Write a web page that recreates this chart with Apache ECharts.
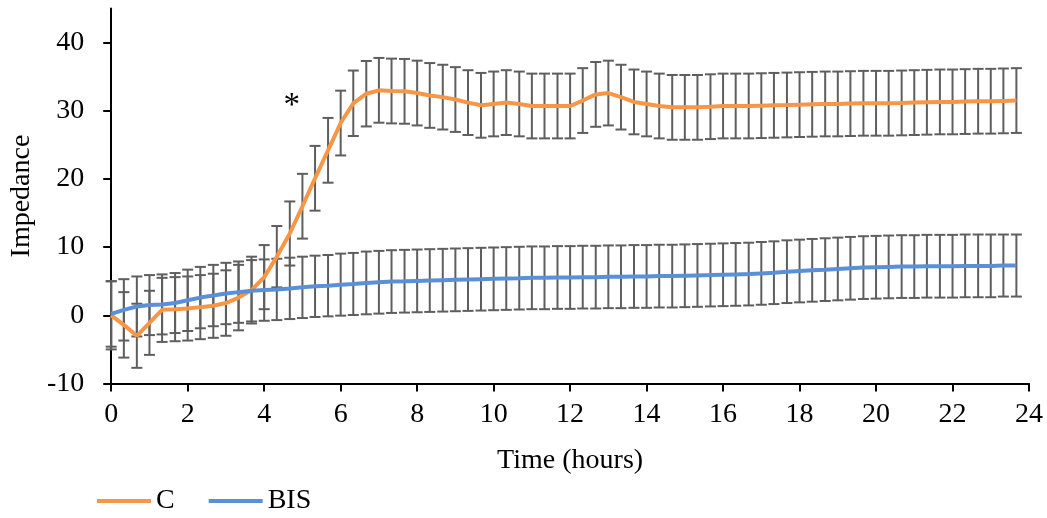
<!DOCTYPE html>
<html>
<head>
<meta charset="utf-8">
<script src="https://cdn.jsdelivr.net/npm/echarts@6/dist/echarts.min.js"></script>
<style>
html,body{margin:0;padding:0;background:#fff;}
#chart{width:1047px;height:518px;}
</style>
</head>
<body>
<div id="chart"></div>
<script>
// Time points (hours)
const timeHours = [0,0.33,0.67,1,1.33,1.67,2,2.33,2.67,3,3.33,3.67,4,4.33,4.67,5,5.33,5.67,6,6.33,6.67,7,7.33,7.67,8,8.33,8.67,9,9.33,9.67,10,10.33,10.67,11,11.33,11.67,12,12.33,12.67,13,13.33,13.67,14,14.33,14.67,15,15.33,15.67,16,16.33,16.67,17,17.33,17.67,18,18.33,18.67,19,19.33,19.67,20,20.33,20.67,21,21.33,21.67,22,22.33,22.67,23,23.33,23.67];

// Series C (mean impedance)
const seriesC = [0,-1.4,-3.0,-1.1,0.8,0.9,1.0,1.2,1.4,1.8,2.6,3.7,5.6,8.6,12.0,16.0,20.1,24.2,28.2,31.1,32.5,33.0,32.9,32.85,32.6,32.25,32.0,31.65,31.2,30.8,31.0,31.2,31.0,30.7,30.7,30.7,30.7,31.5,32.4,32.6,32.0,31.3,31.0,30.7,30.5,30.5,30.5,30.6,30.7,30.7,30.7,30.75,30.8,30.85,30.9,30.95,31.0,31.0,31.05,31.1,31.1,31.1,31.15,31.2,31.25,31.3,31.3,31.35,31.4,31.4,31.45,31.5];
// Series C error (+/-)
const errorC = [5.0,4.8,4.7,4.7,4.7,4.7,4.7,4.7,4.7,4.8,4.8,4.9,4.7,4.5,4.7,4.75,4.75,4.75,4.75,4.8,4.8,4.75,4.75,4.75,4.75,4.75,4.75,4.75,4.75,4.75,4.75,4.75,4.75,4.75,4.75,4.75,4.75,4.75,4.75,4.75,4.75,4.75,4.75,4.75,4.75,4.75,4.75,4.75,4.75,4.75,4.75,4.75,4.75,4.75,4.75,4.75,4.75,4.75,4.75,4.75,4.75,4.75,4.75,4.75,4.75,4.75,4.75,4.75,4.75,4.75,4.75,4.75];

// Series BIS (mean impedance)
const seriesBIS = [0.2,0.8,1.3,1.5,1.6,1.8,2.2,2.6,2.9,3.2,3.4,3.6,3.7,3.8,3.95,4.1,4.25,4.35,4.5,4.6,4.75,4.85,4.95,5.0,5.05,5.1,5.15,5.2,5.25,5.3,5.35,5.4,5.45,5.5,5.5,5.55,5.55,5.6,5.6,5.65,5.65,5.7,5.7,5.75,5.75,5.8,5.85,5.9,5.95,6.0,6.05,6.15,6.25,6.4,6.5,6.6,6.7,6.8,6.9,7.0,7.05,7.1,7.15,7.15,7.2,7.2,7.2,7.25,7.25,7.25,7.3,7.3];
// Series BIS error (+/-)
const errorBIS = [4.8,4.5,4.4,4.4,4.4,4.4,4.5,4.5,4.5,4.5,4.5,4.5,4.5,4.5,4.5,4.5,4.5,4.5,4.55,4.55,4.6,4.6,4.6,4.6,4.6,4.6,4.6,4.6,4.6,4.6,4.6,4.6,4.6,4.6,4.6,4.6,4.6,4.6,4.6,4.6,4.6,4.6,4.6,4.6,4.6,4.6,4.6,4.6,4.6,4.6,4.6,4.6,4.6,4.6,4.6,4.6,4.6,4.6,4.6,4.6,4.6,4.6,4.6,4.6,4.6,4.6,4.6,4.6,4.6,4.6,4.55,4.55];

const yTicks = [-10,0,10,20,30,40];
const xTicks = [0,2,4,6,8,10,12,14,16,18,20,22,24];

const FONT = '"Liberation Serif","Times New Roman",serif';
const ERR_COLOR = '#5e5e5e';

function errData(mean, err) {
  return timeHours.map((t, i) => [t, mean[i] - err[i], mean[i] + err[i]]);
}
function renderErr(params, api) {
  const x = api.value(0), lo = api.value(1), hi = api.value(2);
  const p1 = api.coord([x, hi]);
  const p2 = api.coord([x, lo]);
  const w = 5.5;
  const style = { stroke: ERR_COLOR, lineWidth: 2 };
  return {
    type: 'group',
    children: [
      { type: 'line', shape: { x1: p1[0], y1: p1[1], x2: p2[0], y2: p2[1] }, style: style },
      { type: 'line', shape: { x1: p1[0] - w, y1: p1[1], x2: p1[0] + w, y2: p1[1] }, style: style },
      { type: 'line', shape: { x1: p2[0] - w, y1: p2[1], x2: p2[0] + w, y2: p2[1] }, style: style }
    ]
  };
}

const chart = echarts.init(document.getElementById('chart'), null, { renderer: 'canvas' });
chart.setOption({
  animation: false,
  backgroundColor: '#ffffff',
  textStyle: { fontFamily: FONT },
  grid: { left: 109.5, right: 18, top: 8.5, bottom: 134.5, containLabel: false },
  legend: {
    left: 92, top: 482,
    icon: 'rect', itemWidth: 54, itemHeight: 4, itemGap: 34,
    textStyle: { fontFamily: FONT, fontSize: 28, color: '#000', padding: [0, 0, 0, 0] },
    data: ['C', 'BIS']
  },
  xAxis: {
    type: 'value', min: 0, max: 24, interval: 2,
    name: 'Time (hours)', nameLocation: 'middle', nameGap: 63,
    nameTextStyle: { fontFamily: FONT, fontSize: 28, color: '#000' },
    axisLine: { onZero: false, lineStyle: { color: '#000', width: 2 } },
    axisTick: { show: true, inside: false, length: 8, lineStyle: { color: '#000', width: 2 }, customValues: xTicks },
    axisLabel: { fontFamily: FONT, fontSize: 28, color: '#000', margin: 17, customValues: xTicks },
    splitLine: { show: false }
  },
  yAxis: {
    type: 'value', min: -10, max: 45, interval: 10,
    name: 'Impedance', nameLocation: 'middle', nameGap: 75, nameRotate: 90,
    nameTextStyle: { fontFamily: FONT, fontSize: 28, color: '#000' },
    axisLine: { onZero: false, lineStyle: { color: '#000', width: 2 } },
    axisTick: { show: true, inside: false, length: 8, lineStyle: { color: '#000', width: 2 }, customValues: yTicks },
    axisLabel: { fontFamily: FONT, fontSize: 28, color: '#000', margin: 27, customValues: yTicks },
    splitLine: { show: false }
  },
  series: [
    {
      name: 'errC', type: 'custom', renderItem: renderErr, z: 1,
      encode: { x: 0, y: [1, 2] }, data: errData(seriesC, errorC), silent: true
    },
    {
      name: 'errBIS', type: 'custom', renderItem: renderErr, z: 1,
      encode: { x: 0, y: [1, 2] }, data: errData(seriesBIS, errorBIS), silent: true
    },
    {
      name: 'C', type: 'line', z: 3,
      data: timeHours.map((t, i) => [t, seriesC[i]]),
      showSymbol: false, symbol: 'none',
      lineStyle: { color: '#F79646', width: 4 },
      itemStyle: { color: '#F79646' },
      markPoint: {
        symbol: 'circle', symbolSize: 0,
        label: { show: true, formatter: '*', fontFamily: FONT, fontSize: 33, color: '#000', position: 'inside' },
        data: [{ coord: [4.72, 30.6] }]
      }
    },
    {
      name: 'BIS', type: 'line', z: 3,
      data: timeHours.map((t, i) => [t, seriesBIS[i]]),
      showSymbol: false, symbol: 'none',
      lineStyle: { color: '#5B8FD8', width: 4 },
      itemStyle: { color: '#5B8FD8' }
    }
  ]
});
</script>
</body>
</html>
